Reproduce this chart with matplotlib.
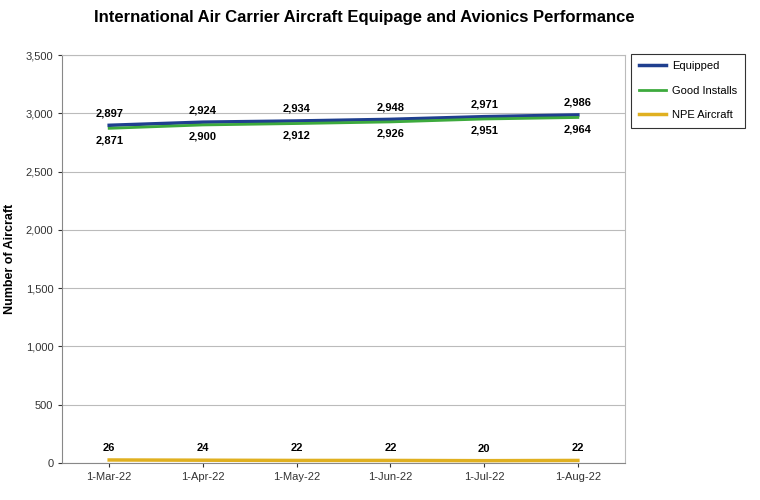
import matplotlib
matplotlib.use('Agg')
import matplotlib.pyplot as plt

dates = ["1-Mar-22", "1-Apr-22", "1-May-22", "1-Jun-22", "1-Jul-22", "1-Aug-22"]
equipped = [2897, 2924, 2934, 2948, 2971, 2986]
good_installs = [2871, 2900, 2912, 2926, 2951, 2964]
npe_aircraft = [26, 24, 22, 22, 20, 22]

plt.rcParams['font.family'] = ['Liberation Sans', 'DejaVu Sans']

fig = plt.figure(figsize=(7.6, 5.0), dpi=100)
ax = fig.add_axes([0.082, 0.074, 0.74, 0.816])
x = range(len(dates))

ax.plot(x, equipped, color="#1F3F8F", lw=2.5, label="Equipped")
ax.plot(x, good_installs, color="#3DAA3D", lw=2, label="Good Installs")
ax.plot(x, npe_aircraft, color="#E0B020", lw=2.5, label="NPE Aircraft")

for i in x:
    ax.text(i, equipped[i] + 60, f"{equipped[i]:,}", ha="center", va="bottom",
            fontsize=8, fontweight="bold")
    ax.text(i, good_installs[i] - 60, f"{good_installs[i]:,}", ha="center", va="top",
            fontsize=8, fontweight="bold")
    ax.text(i, npe_aircraft[i] + 60, f"{npe_aircraft[i]:,}", ha="center", va="bottom",
            fontsize=8, fontweight="bold")

ax.set_xlim(-0.5, len(dates) - 0.5)
ax.set_ylim(0, 3500)
ax.set_yticks(range(0, 3501, 500))
ax.set_yticklabels([f"{v:,}" for v in range(0, 3501, 500)], fontsize=8)
ax.set_xticks(list(x))
ax.set_xticklabels(dates, fontsize=8)
ax.grid(axis="y", color="#BBBBBB", lw=0.8)
ax.set_axisbelow(True)
for s in ["top", "right"]:
    ax.spines[s].set_color("#BBBBBB")
ax.spines["left"].set_color("#888888")
ax.spines["bottom"].set_color("#888888")
ax.tick_params(length=3, colors="#333333")
ax.set_ylabel("Number of Aircraft", fontsize=9, fontweight="bold")
ax.yaxis.set_label_coords(-0.082, 0.5)

fig.suptitle("International Air Carrier Aircraft Equipage and Avionics Performance",
             x=0.48, y=0.98, fontsize=12, fontweight="bold")

leg = fig.legend(loc="upper left", bbox_to_anchor=(0.83, 0.893), fontsize=8,
                 frameon=True, fancybox=False, edgecolor="black",
                 handlelength=2.5, handletextpad=0.5, labelspacing=1.3,
                 borderpad=0.7, borderaxespad=0)
leg.get_frame().set_linewidth(0.8)

plt.savefig("out.png", dpi=100)
